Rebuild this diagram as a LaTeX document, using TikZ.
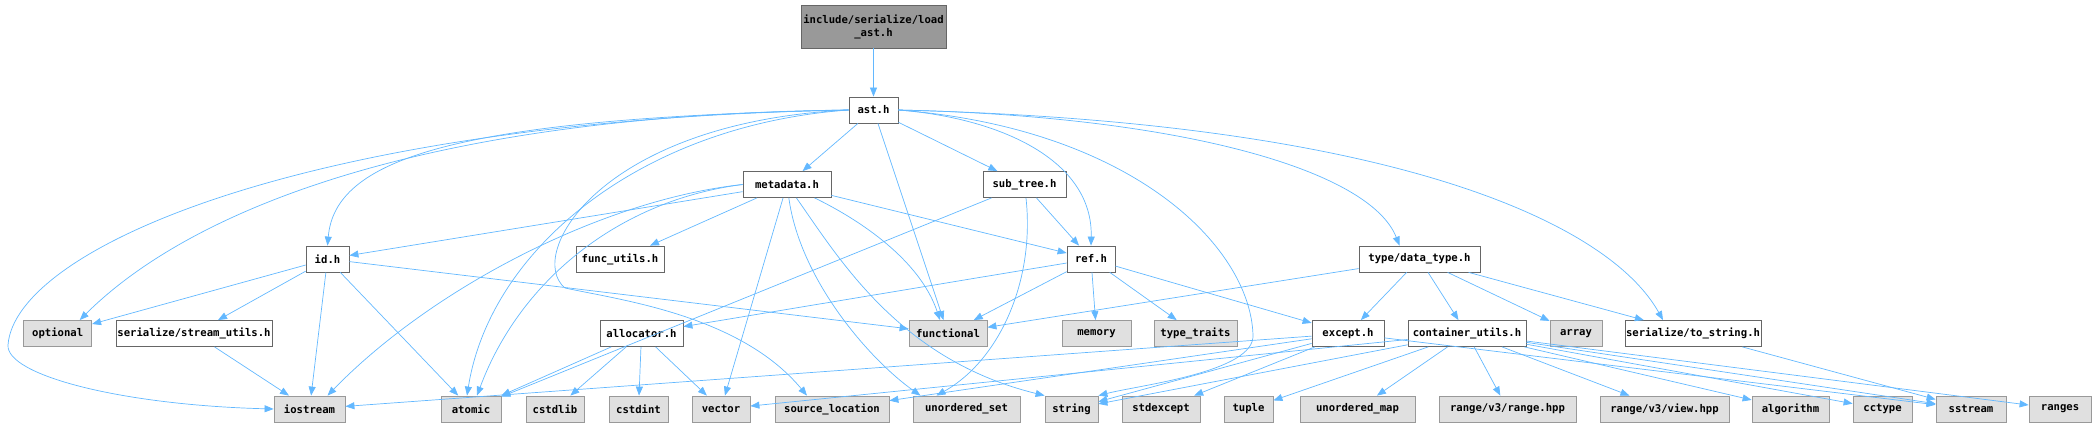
\documentclass[tikz,border=0pt]{standalone}
\usepackage{fontspec}
\setmonofont{DejaVu Sans Mono}
\usepackage{tikz}
\usetikzlibrary{arrows.meta}
\definecolor{incedge}{HTML}{63B8FF}
\definecolor{boxline}{HTML}{666666}
\definecolor{sysline}{HTML}{999999}
\definecolor{sysfill}{HTML}{E0E0E0}
\definecolor{rootfill}{HTML}{999999}
\tikzset{
  hdr/.style={draw=boxline, fill=white, line width=0.8pt, inner sep=0pt,
              minimum height=26pt, font=\ttfamily\bfseries\fontsize{10.6}{13}\selectfont},
  sys/.style={hdr, draw=sysline, fill=sysfill},
  root/.style={hdr, fill=rootfill, align=center, minimum height=43pt},
  incl/.style={-{Triangle[length=9pt,width=7pt]}, draw=incedge, line width=0.7pt},
}

\begin{document}
\begin{tikzpicture}[x=1pt, y=-1pt]
  \useasboundingbox (0,0) rectangle (2096,427);

  \node[root, minimum width=145pt] (load) at (873.5,26.5) {include/serialize/load\\\_ast.h};
  \node[hdr, minimum width=49pt] (ast) at (873.5,110) {ast.h};

  \node[hdr, minimum width=88pt] (metadata) at (787,184.5) {metadata.h};
  \node[hdr, minimum width=83pt] (subtree) at (1024.5,184.5) {sub\_tree.h};

  \node[hdr, minimum width=43pt] (idh) at (327.5,259) {id.h};
  \node[hdr, minimum width=88pt] (funcutils) at (620,259) {func\_utils.h};
  \node[hdr, minimum width=48pt] (ref) at (1091,259) {ref.h};
  \node[hdr, minimum width=121pt] (datatype) at (1419.5,259) {type/data\_type.h};

  \node[sys, minimum width=68pt] (optional) at (57.7,333.5) {optional};
  \node[hdr, minimum width=156pt] (streamutils) at (194,333.5) {serialize/stream\_utils.h};
  \node[hdr, minimum width=83pt] (allocator) at (641.5,333.5) {allocator.h};
  \node[sys, minimum width=78pt] (functional) at (948,333.5) {functional};
  \node[sys, minimum width=69pt] (memory) at (1096.5,333.5) {memory};
  \node[sys, minimum width=83pt] (typetraits) at (1195.5,333.5) {type\_traits};
  \node[hdr, minimum width=72pt] (except) at (1348,333.5) {except.h};
  \node[hdr, minimum width=118pt] (contutils) at (1467,333.5) {container\_utils.h};
  \node[sys, minimum width=52pt] (array) at (1576,333.5) {array};
  \node[hdr, minimum width=136pt] (tostring) at (1693,333.5) {serialize/to\_string.h};

  \node[sys, minimum width=71pt] (iostream) at (309.5,409) {iostream};
  \node[sys, minimum width=60pt] (atomic) at (471,409) {atomic};
  \node[sys, minimum width=58pt] (cstdlib) at (555,409) {cstdlib};
  \node[sys, minimum width=59pt] (cstdint) at (638.5,409) {cstdint};
  \node[sys, minimum width=58pt] (vector) at (721,409) {vector};
  \node[sys, minimum width=114pt] (srcloc) at (832,409) {source\_location};
  \node[sys, minimum width=107pt] (uset) at (966.5,409) {unordered\_set};
  \node[sys, minimum width=53pt] (string) at (1071.5,409) {string};
  \node[sys, minimum width=78pt] (stdexcept) at (1161,409) {stdexcept};
  \node[sys, minimum width=49pt] (tuple) at (1248.5,409) {tuple};
  \node[sys, minimum width=115pt] (umap) at (1357.5,409) {unordered\_map};
  \node[sys, minimum width=137pt] (rangehpp) at (1507.5,409) {range/v3/range.hpp};
  \node[sys, minimum width=129pt] (viewhpp) at (1664.5,409) {range/v3/view.hpp};
  \node[sys, minimum width=77pt] (algorithm) at (1790.5,409) {algorithm};
  \node[sys, minimum width=59pt] (cctype) at (1882.5,409) {cctype};
  \node[sys, minimum width=70pt] (sstream) at (1971,409) {sstream};
  \node[sys, minimum width=62pt] (ranges) at (2060,409) {ranges};

  \coordinate (iobend) at (8,345);
  \coordinate (srcbend) at (565,288);
  \coordinate (strbend) at (1253,335);

  \draw[incl] (load) -- (ast);

  \draw[incl] (ast) -- (metadata);
  \draw[incl] (ast) -- (subtree);
  \draw[incl] (ast) -- (functional);
  \draw[incl] (ast.east) .. controls (1000,118) and (1093,160) .. (ref.north);
  \draw[incl] (ast.east) .. controls (1130,128) and (1250,245) .. (strbend)
    .. controls (1255,372) and (1140,385) .. (string.north east);
  \draw[incl] (ast.east) .. controls (1180,116) and (1370,170) .. ([xshift=-20pt]datatype.north);
  \draw[incl] (ast.east) .. controls (1400,122) and (1610,225) .. ([xshift=-30pt]tostring.north);
  \draw[incl] (ast.west) .. controls (450,118) and (335,160) .. (idh.north);
  \draw[incl] (ast.west) .. controls (400,115) and (180,220) .. ([xshift=22pt]optional.north);
  \draw[incl] (ast.west) .. controls (300,120) and (15,250) .. (iobend)
    .. controls (6,375) and (120,405) .. (iostream.west);
  \draw[incl] (ast.west) .. controls (640,125) and (490,250) .. ([xshift=-4pt]atomic.north);
  \draw[incl] (ast.west) .. controls (600,122) and (525,255) .. (srcbend)
    .. controls (620,300) and (740,315) .. ([xshift=-25pt]srcloc.north);

  \draw[incl] (metadata) -- (idh);
  \draw[incl] (metadata.west) .. controls (600,200) and (430,290) .. ([xshift=18pt]iostream.north);
  \draw[incl] (metadata.west) .. controls (620,200) and (520,280) .. ([xshift=6pt]atomic.north);
  \draw[incl] (metadata) -- (funcutils);
  \draw[incl] (metadata) -- (ref);
  \draw[incl] (metadata) .. controls (860,220) and (920,260) .. ([xshift=-8pt]functional.north);
  \draw[incl] (metadata) -- (vector);
  \draw[incl] (metadata) .. controls (800,280) and (870,360) .. ([xshift=-46pt]uset.north);
  \draw[incl] (metadata) .. controls (840,260) and (900,360) .. (string.north west);

  \draw[incl] (subtree) -- (ref);
  \draw[incl] (subtree) -- (atomic);
  \draw[incl] (subtree) .. controls (1035,280) and (1000,360) .. ([xshift=-30pt]uset.north);

  \draw[incl] (idh) -- (optional);
  \draw[incl] (idh) -- (streamutils);
  \draw[incl] (idh) -- (iostream);
  \draw[incl] (idh) -- (atomic);
  \draw[incl] (idh) -- (functional);
  \draw[incl] (streamutils) -- (iostream);

  \draw[incl] (ref) -- (allocator);
  \draw[incl] (ref) -- (functional);
  \draw[incl] (ref) -- (memory);
  \draw[incl] (ref) -- (typetraits);
  \draw[incl] (ref) -- (except);

  \draw[incl] (allocator) -- (atomic);
  \draw[incl] (allocator) -- (cstdlib);
  \draw[incl] (allocator) -- (cstdint);
  \draw[incl] (allocator) -- (vector);

  \draw[incl] (datatype) -- (functional);
  \draw[incl] (datatype) -- (except);
  \draw[incl] (datatype) -- (contutils);
  \draw[incl] (datatype) -- (array);
  \draw[incl] (datatype) -- (tostring);

  \draw[incl] (except) -- (iostream);
  \draw[incl] (except) -- (srcloc);
  \draw[incl] (except) -- (string);
  \draw[incl] (except) -- (stdexcept);
  \draw[incl] (except) -- (sstream);

  \draw[incl] (contutils) -- (vector);
  \draw[incl] (contutils) -- (string);
  \draw[incl] (contutils) -- (tuple);
  \draw[incl] (contutils) -- (umap);
  \draw[incl] (contutils) -- (rangehpp);
  \draw[incl] (contutils) -- (viewhpp);
  \draw[incl] (contutils) -- (algorithm);
  \draw[incl] (contutils) -- (cctype);
  \draw[incl] (contutils) -- (sstream);
  \draw[incl] (contutils) -- (ranges);

  \draw[incl] (tostring) -- (sstream);
\end{tikzpicture}
\end{document}
